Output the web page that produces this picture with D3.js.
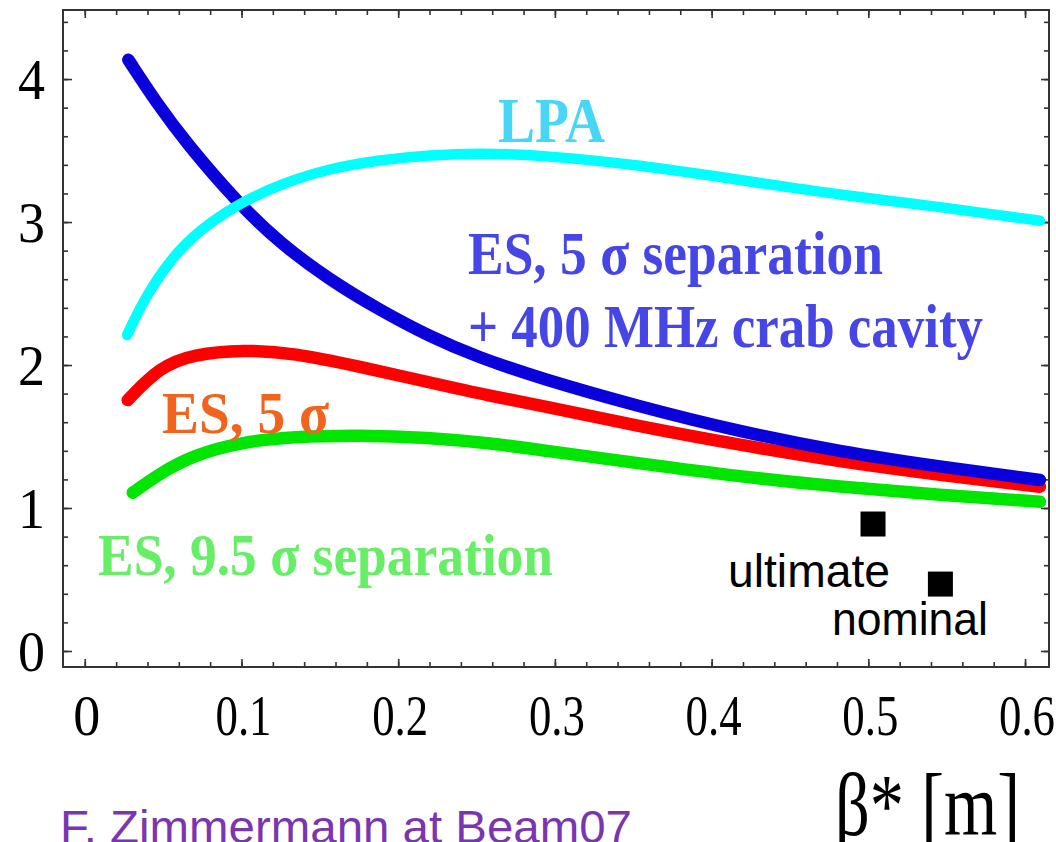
<!DOCTYPE html>
<html>
<head>
<meta charset="utf-8">
<script src="https://cdn.jsdelivr.net/npm/d3@7"></script>
<style>
  html, body { margin: 0; padding: 0; background: #fff; overflow: hidden; }
  svg { display: block; }
</style>
</head>
<body>
<svg id="chart" width="1056" height="842"></svg>
<script>
// Relative luminosity versus beta* for the LHC upgrade scenarios.

// LPA (large Piwinski angle)
const lpaBeta = [0.027, 0.0395, 0.0608, 0.0821, 0.099, 0.1246, 0.1565, 0.1884, 0.2203, 0.2522, 0.2905, 0.3543, 0.4181, 0.4819, 0.5457, 0.6095];
const lpaLumi = [2.21, 2.50, 2.827, 3.014, 3.131, 3.266, 3.376, 3.434, 3.469, 3.481, 3.469, 3.399, 3.294, 3.189, 3.107, 3.009];

// Early separation, 5 sigma + 400 MHz crab cavity
const crabBeta = [0.0278, 0.046, 0.065, 0.097, 0.1246, 0.1565, 0.1884, 0.2203, 0.2501, 0.2905, 0.3543, 0.4181, 0.4819, 0.5457, 0.6095];
const crabLumi = [4.135, 3.830, 3.550, 3.142, 2.851, 2.594, 2.383, 2.198, 2.058, 1.907, 1.708, 1.534, 1.394, 1.289, 1.196];

// Early separation, 5 sigma
const es5Beta = [0.0274, 0.048, 0.0692, 0.1011, 0.1331, 0.1756, 0.2182, 0.2607, 0.2905, 0.3543, 0.4181, 0.4819, 0.5457, 0.6095];
const es5Lumi = [1.755, 1.988, 2.075, 2.108, 2.085, 1.988, 1.883, 1.778, 1.720, 1.569, 1.441, 1.324, 1.231, 1.149];

// Early separation, 9.5 sigma
const es95Beta = [0.0306, 0.048, 0.0692, 0.1011, 0.1331, 0.1756, 0.2182, 0.2607, 0.2905, 0.3543, 0.4181, 0.4819, 0.5457, 0.6095];
const es95Lumi = [1.107, 1.243, 1.371, 1.464, 1.499, 1.510, 1.494, 1.452, 1.406, 1.312, 1.219, 1.149, 1.091, 1.044];

// LHC reference working points
const refNames = ["ultimate", "nominal"];
const refBeta = [0.503, 0.546];
const refLumi = [0.888, 0.468];

// Axis ticks
const xMajor = [0, 0.1, 0.2, 0.3, 0.4, 0.5, 0.6];
const xTickLabels = ["0", "0.1", "0.2", "0.3", "0.4", "0.5", "0.6"];
const yMajor = [0, 1, 2, 3, 4];
const yTickLabels = ["0", "1", "2", "3", "4"];

const svg = d3.select("#chart");
const frame = { left: 63, top: 10, right: 1049, bottom: 667 };

const x = d3.scaleLinear().domain([-0.0139, 0.6153]).range([frame.left, frame.right]);
const y = d3.scaleLinear().domain([-0.112, 4.483]).range([frame.bottom, frame.top]);

const xMinor = d3.range(0, 0.6001, 0.02).map(v => +v.toFixed(2));
const yMinor = d3.range(0, 4.4001, 0.2).map(v => +v.toFixed(1));

// inward-pointing ticks on all four sides
function tickAxis(axisFn, scale, values, size, tx, ty) {
  const g = svg.append("g")
    .attr("transform", `translate(${tx},${ty})`)
    .call(axisFn(scale).tickValues(values).tickSize(size).tickFormat(""));
  g.select(".domain").remove();
  g.selectAll(".tick line").attr("stroke", "#333").attr("stroke-width", 1.6);
}
tickAxis(d3.axisBottom, x, xMinor, -5, 0, frame.bottom);
tickAxis(d3.axisBottom, x, xMajor, -8, 0, frame.bottom);
tickAxis(d3.axisTop, x, xMinor, -5, 0, frame.top);
tickAxis(d3.axisTop, x, xMajor, -8, 0, frame.top);
tickAxis(d3.axisLeft, y, yMinor, -5, frame.left, 0);
tickAxis(d3.axisLeft, y, yMajor, -9, frame.left, 0);
tickAxis(d3.axisRight, y, yMinor, -5, frame.right, 0);
tickAxis(d3.axisRight, y, yMajor, -8, frame.right, 0);

svg.append("rect")
  .attr("x", frame.left).attr("y", frame.top)
  .attr("width", frame.right - frame.left).attr("height", frame.bottom - frame.top)
  .attr("fill", "none").attr("stroke", "#333").attr("stroke-width", 2);

// text helper: fixed extent so the condensed lettering keeps its width
function text(str, left, baseline, size, width, opts = {}) {
  return svg.append("text")
    .attr("x", left).attr("y", baseline)
    .attr("font-family", opts.family || "'Liberation Serif', 'Times New Roman', serif")
    .attr("font-weight", opts.weight || "normal")
    .attr("font-size", size)
    .attr("fill", opts.fill || "#000")
    .attr("textLength", width)
    .attr("lengthAdjust", "spacingAndGlyphs")
    .text(str);
}

// tick labels
yMajor.forEach((v, i) => text(yTickLabels[i], 18, y(v) + 20, 58, 27));
xMajor.forEach((v, i) => {
  const w = xTickLabels[i].length > 1 ? 56 : 27;
  text(xTickLabels[i], x(v) + 2 - w / 2, 735, 56, w);
});

// curves (B-spline through the sampled values keeps them smooth)
const line = d3.line()
  .x(d => x(d[0])).y(d => y(d[1]))
  .curve(d3.curveBasis);

const series = [
  { beta: es5Beta, lumi: es5Lumi, color: "#ff0000", width: 12.5 },
  { beta: es95Beta, lumi: es95Lumi, color: "#00e600", width: 12.5 },
  { beta: crabBeta, lumi: crabLumi, color: "#0a00dc", width: 12.5 },
  { beta: lpaBeta, lumi: lpaLumi, color: "#00ffff", width: 10.5 }
];
series.forEach(s => {
  svg.append("path")
    .datum(s.beta.map((b, i) => [b, s.lumi[i]]))
    .attr("d", line)
    .attr("fill", "none")
    .attr("stroke", s.color)
    .attr("stroke-width", s.width)
    .attr("stroke-linecap", "round")
    .attr("stroke-linejoin", "round");
});

// reference points
const sq = 25;
svg.selectAll("rect.ref")
  .data(refBeta.map((b, i) => ({ b, l: refLumi[i], name: refNames[i] })))
  .join("rect")
  .attr("class", "ref")
  .attr("x", d => x(d.b) - sq / 2).attr("y", d => y(d.l) - sq / 2)
  .attr("width", sq).attr("height", sq)
  .attr("fill", "#000");

const sans = { family: "'Liberation Sans', Arial, sans-serif" };
text("ultimate", 728, 587, 46, 162, sans);
text("nominal", 832, 635, 46, 156, sans);

// curve labels
const bold = "bold";
text("LPA", 498, 142, 64, 107, { weight: bold, fill: "#48d6f6" });
text("ES, 5 σ separation", 468, 274, 62, 415, { weight: bold, fill: "#4646e6" });
text("+ 400 MHz crab cavity", 468, 347, 62, 515, { weight: bold, fill: "#4646e6" });
text("ES, 5 σ", 162, 433, 60, 167, { weight: bold, fill: "#f0641e" });
text("ES, 9.5 σ separation", 98, 575, 60, 455, { weight: bold, fill: "#66ee66" });

// axis title and credit
text("β* [m]", 835, 835, 88, 185);
text("F. Zimmermann at Beam07", 60, 843, 47, 572, { family: "'Liberation Sans', Arial, sans-serif", fill: "#7a35b0" });
</script>
</body>
</html>
